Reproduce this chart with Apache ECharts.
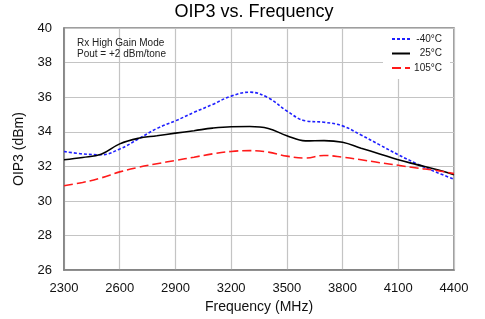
<!DOCTYPE html>
<html>
<head>
<meta charset="utf-8">
<script src="https://cdn.jsdelivr.net/npm/echarts@6/dist/echarts.min.js"></script>
<style>
  html, body { margin: 0; padding: 0; background: #fff; }
  #chart { width: 485px; height: 319px; }
</style>
</head>
<body>
<div id="chart"></div>
<script>
// 频率点 (MHz)，每 100 一个点，刻度标签每 300 显示
const freqs = ['2300', '2400', '2500', '2600', '2700', '2800', '2900', '3000', '3100', '3200', '3300',
  '3400', '3500', '3600', '3700', '3800', '3900', '4000', '4100', '4200', '4300', '4400'];
const seriesNames = ['-40°C', '25°C', '105°C'];
const oipCold = [32.86, 32.72, 32.67, 33.0, 33.58, 34.19, 34.63, 35.12, 35.58, 36.06, 36.29,
  35.96, 35.2, 34.63, 34.55, 34.34, 33.81, 33.24, 32.67, 32.15, 31.68, 31.26];
const oipRoom = [32.38, 32.51, 32.7, 33.3, 33.62, 33.77, 33.92, 34.06, 34.21, 34.29, 34.3,
  34.19, 33.77, 33.47, 33.49, 33.39, 33.05, 32.72, 32.38, 32.1, 31.83, 31.52];
const oipHot = [30.88, 31.07, 31.33, 31.68, 31.94, 32.15, 32.34, 32.53, 32.72, 32.86, 32.91,
  32.82, 32.59, 32.48, 32.63, 32.53, 32.38, 32.21, 32.06, 31.9, 31.77, 31.58];

let chart = echarts.init(document.getElementById('chart'));
const font = 'Liberation Sans, Arial, sans-serif';

let option = {
  animation: false,
  grid: {
    left: 64, right: 31, top: 28, bottom: 46,
    show: true, borderColor: '#7f7f7f', borderWidth: 1.5
  },
  graphic: [
    // 标题
    { type: 'text', x: 254, y: 12,
      style: { text: 'OIP3 vs. Frequency', font: '18px ' + font, fill: '#000',
        align: 'center', verticalAlign: 'middle' } },
    // 测试条件
    { type: 'text', x: 77, y: 37, z: 10,
      style: { text: 'Rx High Gain Mode\nPout = +2 dBm/tone', font: '10px ' + font, fill: '#222',
        lineHeight: 11.5 } }
  ],
  legend: {
    data: seriesNames,
    orient: 'vertical',
    left: 383, top: 29,
    itemWidth: 18, itemHeight: 10, itemGap: 4.5,
    backgroundColor: '#fff',
    padding: [5, 8, 6, 8],
    itemStyle: { opacity: 0 },
    formatter: '{a|{name}}',
    textStyle: {
      fontSize: 10, fontFamily: font, color: '#222',
      rich: { a: { width: 27, align: 'right', fontSize: 10, fontFamily: font, color: '#222' } }
    }
  },
  xAxis: {
    type: 'category',
    data: freqs,
    boundaryGap: false,
    name: 'Frequency (MHz)',
    nameLocation: 'middle',
    nameGap: 26,
    nameTextStyle: { fontSize: 14, fontFamily: font, color: '#111' },
    axisLine: { lineStyle: { color: '#7f7f7f', width: 1.5 } },
    axisTick: { show: false },
    axisLabel: { interval: 2, fontSize: 13, fontFamily: font, color: '#111', margin: 12 },
    splitLine: { show: true, interval: 2, lineStyle: { color: '#c4c4c4', width: 1.2 } }
  },
  yAxis: {
    type: 'value',
    min: 26, max: 40, interval: 2,
    name: 'OIP3 (dBm)',
    nameLocation: 'middle',
    nameGap: 34,
    nameTextStyle: { fontSize: 14, fontFamily: font, color: '#111' },
    axisLine: { show: true, lineStyle: { color: '#7f7f7f', width: 1.5 } },
    axisTick: { show: false },
    axisLabel: { fontSize: 13, fontFamily: font, color: '#111', margin: 12 },
    splitLine: { lineStyle: { color: '#c4c4c4', width: 1.2 } }
  },
  series: [
    { name: seriesNames[0], type: 'line', data: oipCold, smooth: 0.4, symbol: 'none',
      itemStyle: { color: '#1f1fff' },
      lineStyle: { color: '#1f1fff', width: 1.6, type: [3, 2] } },
    { name: seriesNames[1], type: 'line', data: oipRoom, smooth: 0.4, symbol: 'none',
      itemStyle: { color: '#000' },
      lineStyle: { color: '#000', width: 1.6 } },
    { name: seriesNames[2], type: 'line', data: oipHot, smooth: 0.4, symbol: 'none',
      itemStyle: { color: '#ff1a1a' },
      lineStyle: { color: '#ff1a1a', width: 1.6, type: [9, 4] } }
  ]
};
chart.setOption(option);
window.onresize = () => { chart.resize(); };
</script>
</body>
</html>
